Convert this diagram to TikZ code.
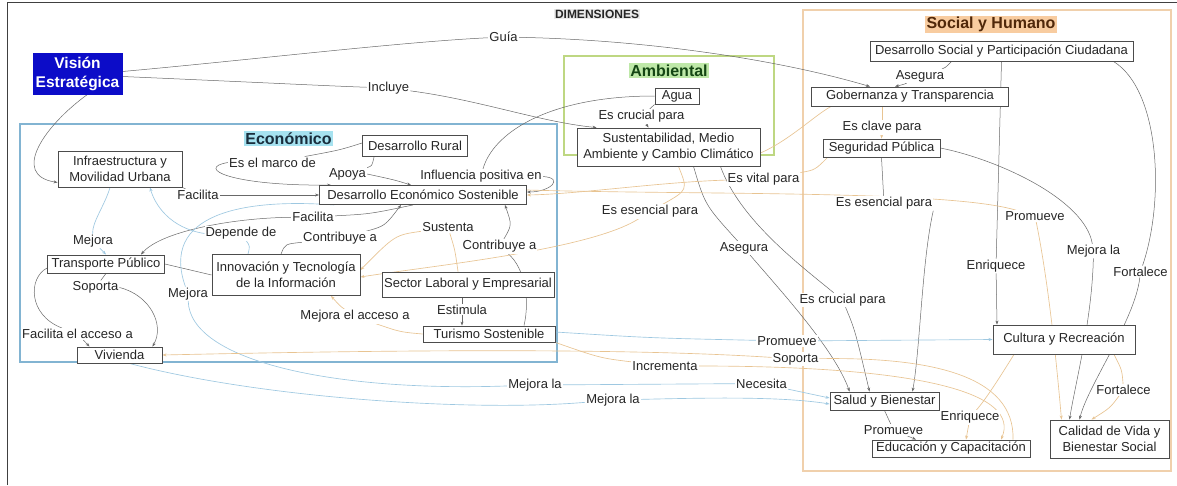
\documentclass[tikz,border=0pt]{standalone}
\usepackage{fontspec}
\setmainfont{Liberation Sans}
\usetikzlibrary{arrows.meta,calc}
\definecolor{cdk}{RGB}{105,105,105}
\definecolor{clb}{RGB}{158,200,225}
\definecolor{ctn}{RGB}{232,196,146}
\definecolor{cvis}{RGB}{12,12,200}
\definecolor{fecon}{RGB}{130,180,210}
\definecolor{famb}{RGB}{190,215,130}
\definecolor{fsoc}{RGB}{240,208,172}
\definecolor{hecon}{RGB}{166,226,240}
\definecolor{hamb}{RGB}{190,232,168}
\definecolor{hsoc}{RGB}{248,204,160}
\definecolor{tecoc}{RGB}{25,45,60}
\definecolor{tambc}{RGB}{20,70,20}
\definecolor{tsocc}{RGB}{80,40,10}
\pgfdeclarelayer{frames}
\pgfdeclarelayer{edges}
\pgfsetlayers{frames,edges,main}
\newcommand{\lblfont}{\fontsize{13}{15.5}\selectfont}
\newcommand{\ttlfont}{\fontsize{16}{19}\selectfont\bfseries}
\begin{document}
\begin{tikzpicture}[x=1pt,y=-1pt,
  box/.style={draw=black!70, line width=0.9pt, fill=white, font=\lblfont, text=black!85, inner sep=1pt, align=center},
  lbl/.style={font=\lblfont, text=black!85, fill=white, inner sep=1pt},
  ttl/.style={font=\ttlfont, inner sep=1.5pt},
  edk/.style={draw=cdk, line width=0.5pt},
  elb/.style={draw=clb, line width=0.65pt},
  etn/.style={draw=ctn, line width=0.65pt},
  arr/.style={-{Stealth[length=4pt,width=3pt]}},
]
\useasboundingbox (0,0) rectangle (1177,485);

% ---------- frames ----------
\begin{pgfonlayer}{frames}
\fill[white] (0,0) rectangle (1177,485);
\draw[black!75, line width=1pt] (7,485) -- (7,2) -- (1177,2);
\draw[fecon, line width=1.2pt] (20,124) rectangle (557,362);
\draw[famb, line width=1.1pt] (564,56) rectangle (774,155);
\draw[fsoc, line width=1.3pt] (803,10) rectangle (1171,471);
\end{pgfonlayer}

% ---------- titles ----------
\node[font=\fontsize{12}{14}\selectfont\bfseries, fill=black!8, inner sep=1pt, text=black!85] (tdim) at (597,14) {DIMENSIONES};
\node[ttl, fill=hecon, text=tecoc] (tecon) at (288.5,138.5) {Económico};
\node[ttl, fill=hamb, text=tambc] (tamb) at (669,70.5) {Ambiental};
\node[ttl, fill=hsoc, text=tsocc] (tsoc) at (991,24.5) {Social y Humano};

% ---------- concept boxes ----------
\node[box, fill=cvis, draw=cvis, text=white, font=\fontsize{15.5}{19}\selectfont\bfseries, minimum width=89pt, minimum height=41pt, inner sep=0pt] (vision) at (77.5,73.5) {Visión\\Estratégica};
\node[box, minimum width=44pt, minimum height=16pt] (agua) at (677,96) {Agua};
\node[box, minimum width=183pt, minimum height=38pt] (sust) at (668.5,147) {Sustentabilidad, Medio\\Ambiente y Cambio Climático};
\node[box, minimum width=105pt, minimum height=21pt] (rural) at (415,146) {Desarrollo Rural};
\node[box, minimum width=207pt, minimum height=19pt] (des) at (423,195) {Desarrollo Económico Sostenible};
\node[box, minimum width=124pt, minimum height=36pt] (infra) at (120,169) {Infraestructura y\\Movilidad Urbana};
\node[box, minimum width=117pt, minimum height=18pt] (transporte) at (106,264) {Transporte Público};
\node[box, minimum width=148pt, minimum height=41pt] (innov) at (286,275) {Innovación y Tecnología\\de la Información};
\node[box, minimum width=172pt, minimum height=25pt] (laboral) at (468,284.5) {Sector Laboral y Empresarial};
\node[box, minimum width=132pt, minimum height=16pt] (turismo) at (489,334) {Turismo Sostenible};
\node[box, minimum width=85pt, minimum height=16pt] (vivienda) at (119.5,355) {Vivienda};
\node[box, minimum width=263pt, minimum height=20pt] (social) at (1001.5,51) {Desarrollo Social y Participación Ciudadana};
\node[box, minimum width=197pt, minimum height=19pt] (gob) at (910,96.5) {Gobernanza y Transparencia};
\node[box, minimum width=117pt, minimum height=18pt] (seg) at (881.5,148) {Seguridad Pública};
\node[box, minimum width=142pt, minimum height=29pt] (cultura) at (1064,339.5) {Cultura y Recreación};
\node[box, minimum width=109pt, minimum height=18pt] (salud) at (884.5,401) {Salud y Bienestar};
\node[box, minimum width=158pt, minimum height=17pt] (educ) at (951,448.5) {Educación y Capacitación};
\node[box, minimum width=119pt, minimum height=38pt] (calidad) at (1109.5,439) {Calidad de Vida y\\Bienestar Social};

% ---------- connector labels ----------
\node[lbl] (guia) at (503.5,37) {Guía};
\node[lbl] (incluye) at (388.5,88) {Incluye};
\node[lbl] (crucial1) at (641.5,116.5) {Es crucial para};
\node[lbl] (asegura1) at (920,76) {Asegura};
\node[lbl] (clave) at (882,127.5) {Es clave para};
\node[lbl] (marco) at (272.5,162.5) {Es el marco de};
\node[lbl] (apoya) at (347.5,174) {Apoya};
\node[lbl] (influ) at (481,176.5) {Influencia positiva en};
\node[lbl] (facil1) at (198,195) {Facilita};
\node[lbl] (facil2) at (313,217) {Facilita};
\node[lbl] (mejoraL) at (93,241) {Mejora};
\node[lbl] (depende) at (241,233.5) {Depende de};
\node[lbl] (contrib1) at (340,238.5) {Contribuye a};
\node[lbl] (sustenta) at (448,227.5) {Sustenta};
\node[lbl] (contrib2) at (499.5,246.5) {Contribuye a};
\node[lbl] (esencial1) at (650,211.5) {Es esencial para};
\node[lbl] (vital) at (763.5,179) {Es vital para};
\node[lbl] (asegura2) at (744,248) {Asegura};
\node[lbl] (esencial2) at (884,203.5) {Es esencial para};
\node[lbl] (promueve1) at (1035,216) {Promueve};
\node[lbl] (mejoralaR) at (1093.5,251) {Mejora la};
\node[lbl] (fort1) at (1140.5,271.5) {Fortalece};
\node[lbl] (enriq1) at (996,266) {Enriquece};
\node[lbl] (crucial2) at (842.5,300) {Es crucial para};
\node[lbl] (soporta1) at (95.5,287.5) {Soporta};
\node[lbl] (mejoraM) at (188,294) {Mejora};
\node[lbl] (acceso) at (355,316.5) {Mejora el acceso a};
\node[lbl] (estimula) at (462,309.5) {Estimula};
\node[lbl] (facacc) at (77.5,334) {Facilita el acceso a};
\node[lbl] (promueve2) at (787,341) {Promueve};
\node[lbl] (soporta2) at (795.5,359) {Soporta};
\node[lbl] (increm) at (665,366) {Incrementa};
\node[lbl] (necesita) at (761.5,383.5) {Necesita};
\node[lbl] (mejorala1) at (535,385) {Mejora la};
\node[lbl] (mejorala2) at (613,400) {Mejora la};
\node[lbl] (fortL) at (1123.5,390) {Fortalece};
\node[lbl] (enriqL) at (970,417.5) {Enriquece};
\node[lbl] (promL) at (893.5,430) {Promueve};

% ---------- connectors ----------
\begin{pgfonlayer}{edges}
% Vision Estrategica
\draw[edk] ([yshift=2pt]vision.east) .. controls (250,60) and (400,42) .. (guia);
\draw[edk,arr] (guia) .. controls (650,40) and (780,60) .. ([xshift=-40pt]gob.north);
\draw[edk] ([yshift=-3pt]vision.east) .. controls (250,82) and (330,86) .. (incluye);
\draw[edk,arr] (incluye) .. controls (480,100) and (540,122) .. ([xshift=20pt]sust.north west);
\draw[edk,arr] ([xshift=10pt]vision.south) .. controls (45,125) and (10,175) .. ([yshift=5pt]infra.south west);
% Economico
\draw[edk] (infra.south east) -- (facil1);
\draw[edk,arr] (facil1) -- (des.west);
\draw[edk] ([yshift=3pt]rural.west) .. controls (340,150) .. (marco);
\draw[edk,arr] (marco.west) .. controls (195,168) and (230,186) .. ([xshift=12pt]des.north west);
\draw[edk] ([xshift=12pt]rural.south west) .. controls (372,166) .. (apoya);
\draw[edk,arr] (apoya.east) .. controls (395,180) .. ([xshift=-12pt]des.north);
\draw[edk] (agua.west) .. controls (545,96) and (492,135) .. (influ);
\draw[edk,arr] (influ.east) .. controls (565,178) and (550,192) .. ([yshift=3pt]des.east);
\draw[elb] ([xshift=-10pt]infra.south) .. controls (105,205) and (92,222) .. (mejoraL);
\draw[elb,arr] (mejoraL) -- (transporte.north);
\draw[edk] ([xshift=-10pt]des.south) .. controls (370,214) .. (facil2);
\draw[edk,arr] (facil2) .. controls (230,218) and (160,232) .. ([xshift=35pt]transporte.north);
\draw[elb] ([xshift=-38pt]innov.north) .. controls (250,246) .. (depende);
\draw[elb,arr] (depende.west) .. controls (170,228) and (155,205) .. ([xshift=30pt]infra.south);
\draw[edk] ([xshift=-5pt]innov.north) .. controls (285,244) .. (contrib1);
\draw[edk,arr] (contrib1) .. controls (385,226) .. ([xshift=-22pt]des.south);
\draw[etn] ([xshift=-10pt]laboral.north) .. controls (455,250) .. (sustenta);
\draw[etn,arr] (sustenta) .. controls (395,235) .. ([yshift=5pt]innov.east);
\draw[edk] ([xshift=35pt]turismo.north) .. controls (530,300) and (525,268) .. (contrib2);
\draw[edk,arr] (contrib2) .. controls (512,225) .. ([xshift=-22pt]des.south east);
\draw[edk] ([xshift=-6pt]laboral.south) -- (estimula);
\draw[edk,arr] (estimula) -- ([xshift=-27pt]turismo.north);
\draw[etn] (turismo.west) .. controls (400,332) .. (acceso);
\draw[etn,arr] (acceso) .. controls (340,306) .. ([xshift=45pt]innov.south);
\draw[edk] (transporte.south) -- (soporta1);
\draw[edk,arr] (soporta1.east) .. controls (150,295) and (165,325) .. ([xshift=-10pt]vivienda.north east);
\draw[edk] ([yshift=-4pt]transporte.west) .. controls (28,278) and (28,315) .. (facacc);
\draw[edk,arr] (facacc) -- ([xshift=-30pt]vivienda.north);
\draw[edk] (innov.west) -- (transporte.east);
\draw[elb] ([xshift=15pt]des.south west) .. controls (240,198) and (160,215) .. (mejoraM);
\draw[elb] (mejoraM) .. controls (190,360) and (330,392) .. (mejorala1);
\draw[elb] (mejorala1) -- (necesita);
\draw[elb,arr] (necesita) -- ([yshift=3pt]salud.west);
\draw[elb] ([xshift=10pt]vivienda.south) .. controls (260,398) and (470,412) .. (mejorala2);
\draw[elb,arr] (mejorala2) .. controls (700,398) and (780,396) .. ([yshift=-3pt]salud.west);
% Ambiental
\draw[edk] (agua.south west) -- (crucial1);
\draw[edk,arr] (crucial1) -- ([xshift=-20pt]sust.north);
\draw[etn] ([xshift=10pt]sust.south) .. controls (688,190) .. (esencial1);
\draw[etn,arr] (esencial1) .. controls (590,250) and (430,266) .. ([yshift=-2pt]innov.east);
\draw[edk] ([xshift=25pt]sust.south) .. controls (705,205) .. (asegura2);
\draw[edk,arr] (asegura2) .. controls (780,290) and (835,350) .. ([xshift=-35pt]salud.north);
\draw[edk] ([xshift=-40pt]sust.south east) .. controls (740,220) and (800,265) .. (crucial2);
\draw[edk,arr] (crucial2) .. controls (855,330) .. ([xshift=-15pt]salud.north);
\draw[etn] ([yshift=-6pt]sust.east) .. controls (790,140) and (815,115) .. ([xshift=20pt]gob.south west);
% Social y Humano
\draw[etn] ([xshift=5pt]seg.south west) .. controls (815,170) .. (vital);
\draw[etn,arr] (vital) .. controls (660,182) and (580,194) .. (des.east);
\draw[edk] ([xshift=-50pt]social.south) .. controls (945,68) .. (asegura1);
\draw[edk,arr] (asegura1) .. controls (905,84) .. ([xshift=-15pt]gob.north);
\draw[etn] ([xshift=-28pt]gob.south) -- (clave);
\draw[etn,arr] (clave) -- (seg.north);
\draw[edk] (seg.south) -- (esencial2);
\draw[edk,arr] (esencial2.south east) .. controls (922,260) and (920,350) .. ([xshift=28pt]salud.north);
\draw[edk] (social.south) -- (enriq1);
\draw[edk,arr] (enriq1) -- ([xshift=-67pt]cultura.north);
\draw[edk] ([xshift=-20pt]social.south east) .. controls (1160,90) and (1165,200) .. (fort1);
\draw[edk,arr] (fort1) .. controls (1135,320) and (1088,385) .. ([xshift=-30pt]calidad.north);
\draw[edk] (seg.east) .. controls (1000,160) and (1085,200) .. (mejoralaR);
\draw[edk,arr] (mejoralaR) .. controls (1092,320) and (1075,385) .. ([xshift=-40pt]calidad.north);
\draw[etn] ([yshift=5pt]des.east) .. controls (700,195) and (950,190) .. (promueve1);
\draw[etn,arr] (promueve1) .. controls (1050,290) and (1058,380) .. ([xshift=-48pt]calidad.north);
\draw[etn] ([xshift=50pt]cultura.south) .. controls (1122,370) .. (fortL);
\draw[etn,arr] (fortL) .. controls (1110,408) .. ([xshift=-18pt]calidad.north);
\draw[etn] ([xshift=-50pt]cultura.south) .. controls (995,385) and (985,400) .. (enriqL);
\draw[etn,arr] (enriqL) -- ([xshift=15pt]educ.north);
\draw[edk] (salud.south) -- (promL);
\draw[edk,arr] (promL) -- ([xshift=-35pt]educ.north);
\draw[elb] ([yshift=2pt]turismo.east) .. controls (650,338) .. (promueve2);
\draw[elb,arr] (promueve2) -- (cultura.west);
\draw[etn] ([xshift=62pt]educ.north) .. controls (1015,375) and (930,357) .. (soporta2);
\draw[etn,arr] (soporta2) .. controls (600,346) and (300,352) .. (vivienda.east);
\draw[etn] (turismo.south east) .. controls (600,358) .. (increm);
\draw[etn,arr] (increm) .. controls (930,366) and (1020,395) .. ([xshift=50pt]educ.north);
\end{pgfonlayer}
\end{tikzpicture}
\end{document}
